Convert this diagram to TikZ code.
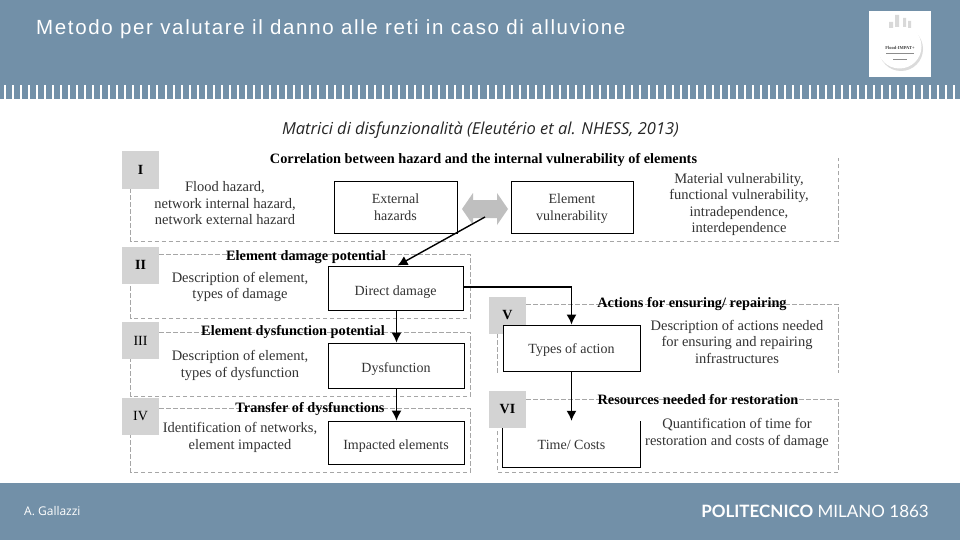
\documentclass[tikz,border=0pt]{standalone}
\usepackage{fontspec}
\setmainfont{Liberation Serif}
\newfontfamily\titlefont[LetterSpace=8]{Liberation Sans}
\newfontfamily\capfont{Open Sans}
\newfontfamily\logofont{Lato}
\definecolor{band}{HTML}{7290A8}
\definecolor{labelgrey}{HTML}{D3D3D3}
\definecolor{dashgrey}{HTML}{A6A6A6}
\definecolor{bodytext}{HTML}{333333}
\usetikzlibrary{arrows.meta}
\newcommand{\twoline}[2]{\raisebox{-5.5pt}[0pt][0pt]{\begin{tabular}{@{}c@{}}#1\\#2\end{tabular}}}
\newcommand{\lowered}[2]{\raisebox{#1}[0pt][0pt]{#2}}
\tikzset{
  sqlabel/.style={fill=labelgrey,minimum width=37pt,minimum height=37pt,inner sep=0pt,font=\fontsize{14}{16}\selectfont\bfseries},
  stagebox/.style={draw=black,line width=0.9pt,fill=white,inner sep=0pt,align=center,text=bodytext,font=\fontsize{14}{17}\selectfont},
  headline/.style={inner sep=0pt,font=\fontsize{14.3}{16}\selectfont\bfseries},
  desc/.style={inner sep=0pt,align=center,text=bodytext,font=\fontsize{14.5}{16.5}\selectfont},
  zone/.style={draw=dashgrey,line width=0.7pt,dash pattern=on 4.5pt off 2.5pt},
  flow/.style={draw=black,line width=1.4pt,-{Latex[length=10pt,width=10pt]}}
}
\begin{document}
\begin{tikzpicture}[x=1pt,y=-1pt]
\useasboundingbox (0,0) rectangle (960,540);
\fill[white] (0,0) rectangle (960,540);
\fill[band] (0,0) rectangle (960,99);
\fill[band] (0,483) rectangle (960,540);
\foreach \k in {0,...,118} {\fill[white] ({3.5+8.05*\k},85) rectangle ({5.5+8.05*\k},99);}
\node[anchor=west,inner sep=0pt,text=white] (title) at (36,29.5) {\titlefont\fontsize{20.5}{23}\selectfont Metodo per valutare il danno alle reti in caso di alluvione};
\node[inner sep=0pt,text=black!85] (subtitle) at (480.5,130.5) {\capfont\itshape\fontsize{16.5}{19}\selectfont Matrici di disfunzionalità (Eleutério et al. NHESS, 2013)};
% logo
\fill[white] (869,11) rectangle (931,77);
\fill[black!14] (901,49) circle (22);
\fill[white] (899.5,46.5) circle (22);
\fill[black!15] (889,22) rectangle (893,28) (895,15) rectangle (899,27) (903,18) rectangle (906,27) (908,21) rectangle (911,28);
\node[inner sep=0pt,text=black!75] (logotext) at (900,48) {\fontsize{4.5}{5}\selectfont\bfseries Flood-IMPAT+};
\draw[black!45,line width=0.8pt] (886,53) -- (914,53) (893,59) -- (907,59);
% dashed zones
\draw[zone] (130.5,188) -- (130.5,241) -- (838,241) -- (838,158);
\draw[zone] (159,254) -- (470,254) -- (470,318) -- (130.5,318) -- (130.5,283);
\draw[zone] (159,332) -- (470,332) -- (470,396) -- (130.5,396) -- (130.5,358);
\draw[zone] (159,408) -- (470,408) -- (470,472) -- (130.5,472) -- (130.5,434);
\draw[zone] (526,304) -- (838,304) -- (838,373);
\draw[zone] (497,333) -- (497,375);
\draw[zone] (526,399) -- (838,399) -- (838,472) -- (497,472) -- (497,427);
% square labels
\node[sqlabel] (lI) at (140.5,170) {I};
\node[sqlabel] (lII) at (140.5,265) {II};
\node[sqlabel] (lIII) at (140.5,340.5) {\mdseries III};
\node[sqlabel] (lIV) at (140.5,416) {\mdseries IV};
\node[sqlabel] (lV) at (507.5,315) {V};
% boxes
\node[stagebox,minimum width=123pt,minimum height=52pt] (ext) at (395.5,207) {\twoline{External}{hazards}};
\node[stagebox,minimum width=122pt,minimum height=52pt] (vuln) at (572,207) {\twoline{Element}{vulnerability}};
\node[stagebox,minimum width=135pt,minimum height=44pt] (direct) at (395.5,288) {\lowered{-7.5pt}{Direct damage}};
\node[stagebox,minimum width=136pt,minimum height=45pt] (dysf) at (396,365.5) {\lowered{-6.5pt}{Dysfunction}};
\node[stagebox,minimum width=136pt,minimum height=43pt] (imp) at (396,442.5) {\lowered{-7pt}{Impacted elements}};
\node[stagebox,minimum width=137pt,minimum height=46pt] (types) at (571.5,348) {\lowered{-5pt}{Types of action}};
\node[inner sep=0pt,fill=white,minimum width=137pt,minimum height=46pt,text=bodytext,font=\fontsize{14}{17}\selectfont] (time) at (571.5,444) {\lowered{-5pt}{Time/ Costs}};
\draw[line width=0.9pt] (time.north west) -- (time.south west) -- (time.south east) -- (time.north east);
\node[sqlabel] (lVI) at (507.5,409) {VI};
% grey double arrow
\fill[black!25] (462,209) -- (473,193) -- (473,200) -- (497,200) -- (497,193) -- (508,209) -- (497,225) -- (497,218) -- (473,218) -- (473,225) -- cycle;
\coordinate (both) at (485,217);
% connectors
\draw[flow] (both) -- ([xshift=2pt]direct.north);
\draw[flow] ([xshift=1pt]direct.south) -- ([xshift=0.5pt]dysf.north);
\draw[flow] ([xshift=0.5pt]dysf.south) -- ([xshift=0.5pt]imp.north);
\draw[flow] ([yshift=1pt]direct.east) -| (types.north);
\draw[flow] (types.south) -- (time.north);
% headings
\node[headline] (h1) at (483.5,160) {Correlation between hazard and the internal vulnerability of elements};
\node[headline] (h2) at (306,257) {Element damage potential};
\node[headline] (h3) at (293,332) {Element dysfunction potential};
\node[headline] (h4) at (310,409) {Transfer of dysfunctions};
\node[headline] (h5) at (692,304) {Actions for ensuring/ repairing};
\node[headline] (h6) at (698,400) {Resources needed for restoration};
% descriptions
\node[desc] (d1) at (225,203.5) {Flood hazard,\\network internal hazard,\\network external hazard};
\node[desc] (d2) at (739,204.5) {Material vulnerability,\\functional vulnerability,\\intradependence,\\interdependence};
\node[desc] (d3) at (240,287) {Description of element,\\types of damage};
\node[desc] (d4) at (240,365.5) {Description of element,\\types of dysfunction};
\node[desc] (d5) at (240,437.5) {Identification of networks,\\element impacted};
\node[desc] (d6) at (737,341.5) {Description of actions needed\\for ensuring and repairing\\infrastructures};
\node[desc] (d7) at (737,433.5) {Quantification of time for\\restoration and costs of damage};
% footer
\node[anchor=west,inner sep=0pt,text=white] (author) at (24,511) {\capfont\fontsize{12}{14}\selectfont A. Gallazzi};
\node[anchor=east,inner sep=0pt,text=white] (poli) at (929,511) {\logofont\fontsize{17}{19}\selectfont\textbf{POLITECNICO} MILANO 1863};
\end{tikzpicture}
\end{document}
